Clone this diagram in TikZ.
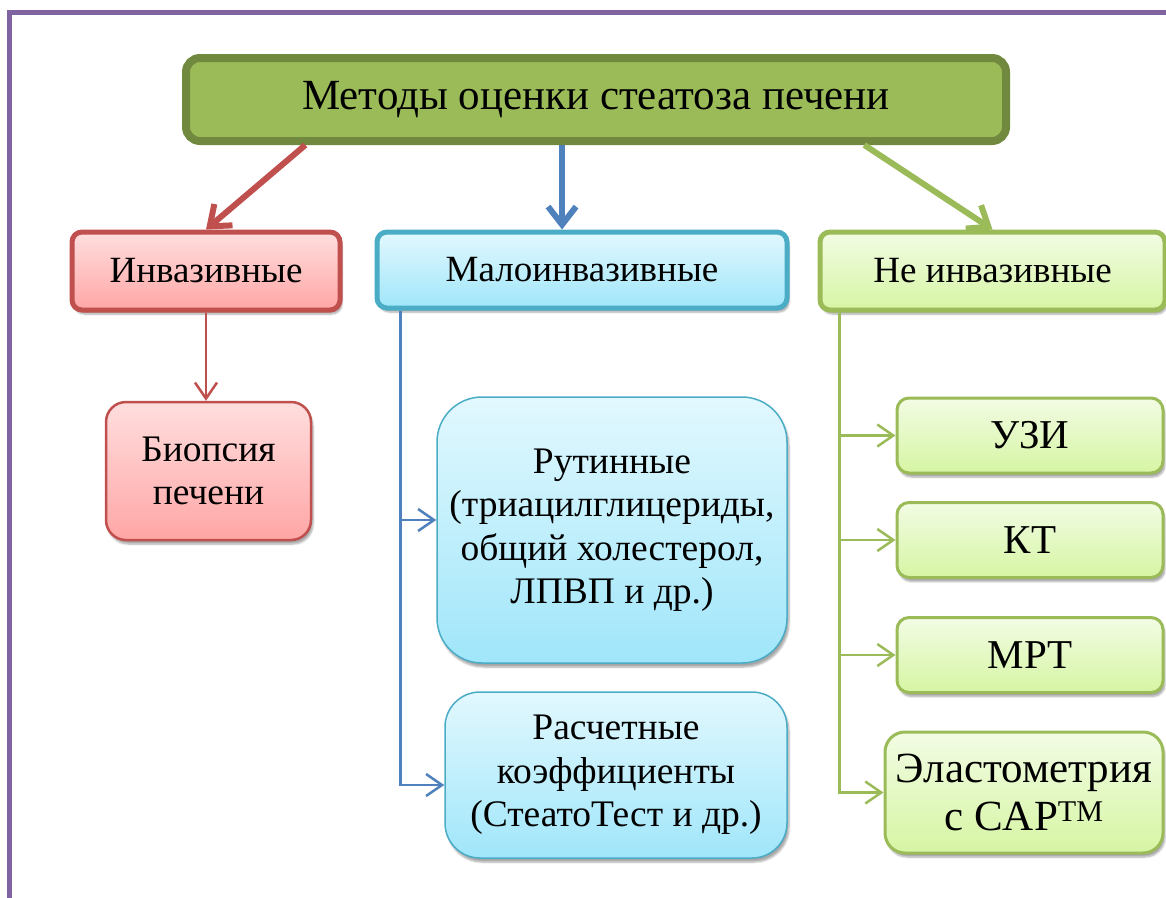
\documentclass[tikz,border=0pt]{standalone}
\usepackage{fontspec}
\setmainfont{Liberation Serif}
\usepackage{xcolor}
\usepackage{tikz}
\usetikzlibrary{arrows.meta, calc, shadows.blur}

\definecolor{frameviolet}{HTML}{8064A2}
\definecolor{titlefill}{HTML}{9BBB59}
\definecolor{titleedge}{HTML}{71893F}
\definecolor{redline}{HTML}{C0504D}
\definecolor{tealline}{HTML}{4BACC6}
\definecolor{blueline}{HTML}{4F81BD}
\definecolor{greenline}{HTML}{9BBB59}
\definecolor{pinktop}{HTML}{FFDEDE}
\definecolor{pinkbot}{HTML}{FFA6A6}
\definecolor{cyantop}{HTML}{E2F8FE}
\definecolor{cyanbot}{HTML}{A0E6FA}
\definecolor{limetop}{HTML}{F2FCE4}
\definecolor{limebot}{HTML}{D6F5A3}

\begin{document}
\begin{tikzpicture}[x=1pt, y=-1pt,
    every node/.style={rectangle, align=center, inner sep=0pt},
    softshade/.style={blur shadow={shadow xshift=2pt, shadow yshift=-4pt, shadow blur steps=6, shadow opacity=35}},
    titlebox/.style={draw=titleedge, fill=titlefill, line width=8pt, rounded corners=14pt, font=\fontsize{43}{48}\selectfont},
    redbox/.style={softshade, draw=redline, line width=5pt, rounded corners=10pt, top color=pinktop, bottom color=pinkbot, font=\fontsize{37}{42}\selectfont},
    bluebox/.style={softshade, draw=tealline, line width=5pt, rounded corners=10pt, top color=cyantop, bottom color=cyanbot, font=\fontsize{37}{42}\selectfont},
    greenbox/.style={softshade, draw=greenline, line width=5pt, rounded corners=10pt, top color=limetop, bottom color=limebot, font=\fontsize{37}{42}\selectfont},
    redsub/.style={softshade, draw=redline, line width=2.5pt, rounded corners=20pt, top color=pinktop, bottom color=pinkbot, font=\fontsize{37.5}{43}\selectfont},
    bluesub/.style={softshade, draw=tealline, line width=1.5pt, top color=cyantop, bottom color=cyanbot, font=\fontsize{37.5}{43.5}\selectfont},
    greensub/.style={softshade, draw=greenline, line width=3pt, rounded corners=12pt, top color=limetop, bottom color=limebot, font=\fontsize{41}{48}\selectfont},
    thickarrow/.style={line width=6pt, -{Straight Barb[length=18pt, width=28pt]}},
    thinarrow/.style={line width=2.5pt, -{Straight Barb[length=16pt, width=22pt]}}]

  \useasboundingbox (0,0) rectangle (1166,897);
  \draw[frameviolet, line width=5pt] (9.5,960) |- (1200,12.5);

  \node[titlebox, minimum width=820pt, minimum height=83pt] (title) at (596,99.5) {Методы оценки стеатоза печени};

  \node[redbox, minimum width=268pt, minimum height=78pt] (inv) at (206,271) {Инвазивные};
  \node[bluebox, minimum width=410pt, minimum height=76pt] (mal) at (582,270) {Малоинвазивные};
  \node[greenbox, minimum width=345pt, minimum height=78pt] (noninv) at (992.5,271) {Не инвазивные};

  \node[redsub, minimum width=205pt, minimum height=138pt] (bio) at (208.5,471) {Биопсия\\печени};

  \node[bluesub, rounded corners=45pt, minimum width=350pt, minimum height=266pt] (rut) at (612,530)
    {Рутинные\\(триацилглицериды,\\общий холестерол,\\ЛПВП и др.)};
  \node[bluesub, rounded corners=35pt, minimum width=342pt, minimum height=166pt] (ras) at (616,775)
    {Расчетные\\коэффициенты\\(СтеатоТест и др.)};

  \node[greensub, minimum width=266pt, minimum height=75pt] (uzi) at (1030,435.5) {УЗИ};
  \node[greensub, minimum width=266pt, minimum height=75pt] (kt) at (1030,540) {КТ};
  \node[greensub, minimum width=266pt, minimum height=75pt] (mrt) at (1030,655) {МРТ};
  \node[greensub, font=\fontsize{43}{48}\selectfont, rounded corners=20pt, minimum width=278pt, minimum height=121pt] (elast) at (1024,792.5)
    {Эластометрия\\с CAP\textsuperscript{TM}};

  % from the title to the three groups
  \coordinate (redout) at ($(title.south west)!0.149!(title.south east)$);
  \coordinate (blueout) at ($(title.south west)!0.459!(title.south east)$);
  \coordinate (greenout) at ($(title.south west)!0.824!(title.south east)$);
  \draw[thickarrow, redline] (redout) -- (inv.north);
  \draw[thickarrow, blueline] (blueout) -- (blueout |- mal.north);
  \draw[thickarrow, greenline] (greenout) -- (noninv.north);

  % branches
  \draw[thinarrow, redline] (inv.south) -- (inv.south |- bio.north);

  \coordinate (bluetrunk) at ($(mal.south west)+(26,0)$);
  \draw[thinarrow, blueline] (bluetrunk) |- ([yshift=10pt]rut.west);
  \draw[thinarrow, blueline] (bluetrunk) |- ([yshift=-10pt]ras.west);

  \coordinate (greentrunk) at ($(noninv.south west)+(22,0)$);
  \foreach \t in {uzi, kt, mrt, elast}
    \draw[thinarrow, greenline] (greentrunk) |- (\t.west);
\end{tikzpicture}
\end{document}
